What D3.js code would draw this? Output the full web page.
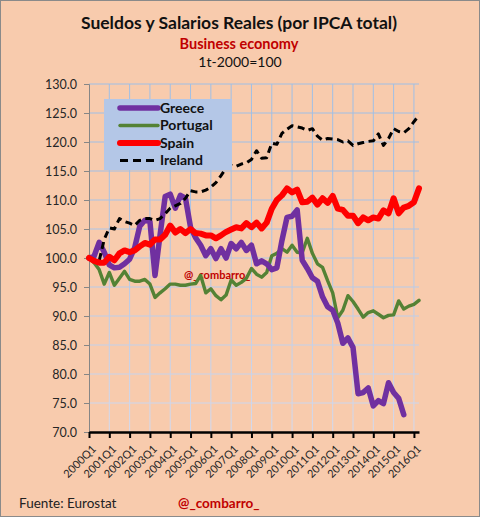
<!DOCTYPE html>
<html>
<head>
<meta charset="utf-8">
<script src="https://cdn.jsdelivr.net/npm/d3@7"></script>
<style>
  html, body { margin: 0; padding: 0; background: #f8cbad; }
  svg { display: block; font-family: Lato, "Open Sans", sans-serif; }
</style>
</head>
<body>
<svg id="chart"></svg>
<script>
// Sueldos y Salarios Reales — quarterly index, 1t-2000 = 100

const years = d3.range(2000, 2017);
const quarters = years.flatMap(y => [1, 2, 3, 4].map(q => `${y}Q${q}`)).slice(0, 66);
const yTicks = [70, 75, 80, 85, 90, 95, 100, 105, 110, 115, 120, 125, 130];

const greece = [
  100.0, 100.3, 102.7, 101.0, 98.8, 98.3, 98.4, 99.0,
  99.8, 101.8, 105.5, 106.5, 106.3, 97.0, 104.0, 110.6,
  111.0, 108.6, 110.8, 110.3, 105.3, 103.5, 102.2, 100.4,
  101.6, 99.9, 101.6, 100.0, 102.5, 101.6, 102.7, 101.3,
  102.2, 99.0, 99.5, 99.0, 98.0, 98.3, 103.0, 107.0,
  107.2, 108.3, 99.6, 98.2, 96.6, 96.0, 93.3, 91.6,
  91.0, 88.8, 85.3, 86.2, 84.6, 76.6, 76.8, 77.6,
  74.5, 75.4, 74.9, 78.5, 76.8, 75.8, 73.0
];
const portugal = [
  100.0, 99.2, 98.0, 95.5, 97.5, 95.3, 96.5, 97.7,
  96.3, 96.0, 96.0, 96.3, 95.5, 93.2, 94.0, 94.7,
  95.5, 95.5, 95.3, 95.3, 95.5, 95.6, 97.0, 94.0,
  94.7, 93.5, 92.8, 93.6, 96.2, 95.3, 95.8, 96.5,
  98.2, 97.2, 96.7, 97.5, 100.4, 100.8, 101.6, 101.0,
  102.2, 101.0, 100.9, 103.4, 100.8, 99.0, 98.4, 96.1,
  94.0, 89.7, 91.0, 93.5, 92.5, 91.2, 89.8, 90.6,
  90.9, 90.3, 89.7, 90.1, 90.2, 92.6, 91.2, 91.7,
  92.0, 92.7
];
const spain = [
  100.0, 99.5, 99.2, 99.2, 100.2, 99.6, 100.8, 101.3,
  101.0, 101.3, 102.0, 102.6, 102.3, 103.2, 103.2, 104.0,
  105.6, 104.4, 105.0, 104.3, 105.0, 104.3, 104.2, 103.9,
  103.9, 103.4, 103.9, 104.5, 104.9, 105.3, 105.1, 106.0,
  105.3, 106.1, 105.1, 106.1, 108.5, 110.0, 110.8, 112.0,
  111.3, 111.8, 109.6, 109.7, 110.4, 109.2, 110.3, 109.5,
  110.7, 108.5, 108.3, 107.3, 107.3, 106.0, 107.0, 106.5,
  107.0, 106.8, 108.2, 107.7, 110.3, 107.7, 108.7, 109.0,
  109.6, 112.0
];
const ireland = [
  100.0, 99.7, 99.5, 103.2, 105.2, 105.0, 106.8, 106.3,
  106.0, 105.6, 106.5, 106.8, 106.8, 106.5, 106.8, 107.6,
  108.6, 109.0, 109.4, 110.3, 111.6, 111.4, 111.4, 111.7,
  112.2, 113.0, 114.2, 115.5, 116.0, 115.8, 116.2, 116.4,
  117.0, 118.5, 117.2, 117.3, 119.8, 119.6, 121.5, 122.2,
  122.8, 122.6, 122.4, 122.0, 122.3, 121.0, 120.3, 120.6,
  120.5, 120.4, 120.0, 120.2, 119.4, 119.7, 119.9, 120.1,
  120.2, 121.4, 119.4, 120.6, 122.3, 121.8, 121.6, 122.3,
  123.5, 124.6
];

const seriesNames = ["Greece", "Portugal", "Spain", "Ireland"];

(function () {
  const W = 480, H = 517;
  const M = { top: 84, right: 61, bottom: 85, left: 89 };
  const innerW = W - M.left - M.right;
  const innerH = H - M.top - M.bottom;

  const BG = "#f8cbad";
  const RED_TXT = "#c00000";

  const styles = {
    Greece:   { color: "#7030a0", width: 5.5, dash: null },
    Portugal: { color: "#548235", width: 3.4, dash: null },
    Spain:    { color: "#ff0000", width: 6, dash: null },
    Ireland:  { color: "#000000", width: 3, dash: "7,4.5" }
  };
  const values = { Greece: greece, Portugal: portugal, Spain: spain, Ireland: ireland };

  const svg = d3.select("#chart").attr("width", W).attr("height", H);

  svg.append("rect")
    .attr("x", 0.5).attr("y", 0.5)
    .attr("width", W - 1).attr("height", H - 1)
    .attr("fill", BG).attr("stroke", "#8a8a8a");

  // gridline colour fades from blue (top) to pale (bottom)
  const grad = svg.append("defs").append("linearGradient")
    .attr("id", "gridGrad").attr("gradientUnits", "userSpaceOnUse")
    .attr("x1", 0).attr("x2", 0).attr("y1", M.top).attr("y2", M.top + innerH);
  grad.append("stop").attr("offset", "0%").attr("stop-color", "#9fbfe6");
  grad.append("stop").attr("offset", "100%").attr("stop-color", "#e2e2f2");

  // Titles
  svg.append("text")
    .attr("x", 239).attr("y", 23).attr("dy", "0.35em")
    .attr("text-anchor", "middle")
    .attr("font-size", 17.5).attr("font-weight", 700).attr("fill", "#111")
    .text("Sueldos y Salarios Reales (por IPCA total)");
  svg.append("text")
    .attr("x", 239).attr("y", 44).attr("dy", "0.35em")
    .attr("text-anchor", "middle")
    .attr("font-size", 14.5).attr("font-weight", 700).attr("fill", RED_TXT)
    .text("Business economy");
  svg.append("text")
    .attr("x", 240).attr("y", 62).attr("dy", "0.35em")
    .attr("text-anchor", "middle")
    .attr("font-size", 14).attr("fill", "#111")
    .text("1t-2000=100");

  const g = svg.append("g")
    .attr("transform", `translate(${M.left},${M.top})`);

  const x = d3.scalePoint()
    .domain(quarters)
    .range([0, innerW]);

  const y = d3.scaleLinear()
    .domain([70, 130])
    .range([innerH, 0]);

  const q1 = quarters.filter(q => q.endsWith("Q1"));

  // Gridlines
  g.append("g")
    .selectAll("line")
    .data(yTicks.filter(v => v > 70))
    .join("line")
    .attr("x1", 0).attr("x2", innerW)
    .attr("y1", d => y(d)).attr("y2", d => y(d))
    .attr("stroke", "url(#gridGrad)").attr("stroke-width", 1);
  g.append("g")
    .selectAll("line")
    .data(q1.slice(1))
    .join("line")
    .attr("x1", d => x(d)).attr("x2", d => x(d))
    .attr("y1", 0).attr("y2", innerH)
    .attr("stroke", "url(#gridGrad)").attr("stroke-width", 1);

  // Y axis
  const yAxis = g.append("g")
    .call(d3.axisLeft(y).tickValues(yTicks).tickFormat(d3.format(".1f"))
      .tickSize(5).tickPadding(7));
  yAxis.select(".domain").attr("stroke", "#868686");
  yAxis.selectAll(".tick line").attr("stroke", "#868686");
  yAxis.selectAll("text")
    .attr("font-size", 12.5).attr("fill", "#262626")
    .attr("font-family", "Lato, sans-serif");

  // X axis
  const xAxis = g.append("g")
    .attr("transform", `translate(0,${innerH})`)
    .call(d3.axisBottom(x).tickValues(q1).tickSize(6).tickSizeOuter(0).tickFormat(""));
  xAxis.select(".domain").attr("stroke", "#000").attr("stroke-width", 2.5);
  xAxis.selectAll(".tick line").attr("stroke", "#000").attr("stroke-width", 2);

  g.append("g")
    .selectAll("text")
    .data(q1)
    .join("text")
    .attr("transform", d => `translate(${x(d) + 5},${innerH + 15}) rotate(-45)`)
    .attr("text-anchor", "end")
    .attr("dy", "0.35em")
    .attr("font-size", 11).attr("fill", "#262626")
    .text(d => d);

  // Watermark inside plot
  g.append("text")
    .attr("x", 184 - M.left).attr("y", 275 - M.top).attr("dy", "0.35em")
    .attr("font-size", 11).attr("font-weight", 700).attr("fill", RED_TXT)
    .text("@_combarro_");

  // Lines
  const line = d3.line()
    .x((d, i) => x(quarters[i]))
    .y(d => y(d));

  ["Portugal", "Greece", "Ireland", "Spain"].forEach(name => {
    const s = styles[name];
    g.append("path")
      .datum(values[name])
      .attr("fill", "none")
      .attr("stroke", s.color)
      .attr("stroke-width", s.width)
      .attr("stroke-linejoin", "round")
      .attr("stroke-linecap", s.dash ? "butt" : "round")
      .attr("stroke-dasharray", s.dash)
      .attr("d", line);
  });

  // Legend
  const lg = svg.append("g").attr("transform", "translate(104,99)");
  lg.append("rect")
    .attr("width", 128).attr("height", 71)
    .attr("fill", "#b4c7e7");
  seriesNames.forEach((name, i) => {
    const s = styles[name];
    const cy = 9 + i * 17.5;
    lg.append("line")
      .attr("x1", 16).attr("x2", 54)
      .attr("y1", cy).attr("y2", cy)
      .attr("stroke", s.color)
      .attr("stroke-width", s.width)
      .attr("stroke-linecap", s.dash ? "butt" : "round")
      .attr("stroke-dasharray", s.dash ? "8,5" : null);
    lg.append("text")
      .attr("x", 56).attr("y", cy).attr("dy", "0.35em")
      .attr("font-size", 14).attr("font-weight", 700).attr("fill", "#111")
      .text(name);
  });

  // Footer
  svg.append("text")
    .attr("x", 19).attr("y", 503).attr("dy", "0.35em")
    .attr("font-size", 13.5).attr("fill", "#222")
    .text("Fuente: Eurostat");
  svg.append("text")
    .attr("x", 178).attr("y", 503).attr("dy", "0.35em")
    .attr("font-size", 13.5).attr("font-weight", 700).attr("fill", RED_TXT)
    .text("@_combarro_");
})();
</script>
</body>
</html>
